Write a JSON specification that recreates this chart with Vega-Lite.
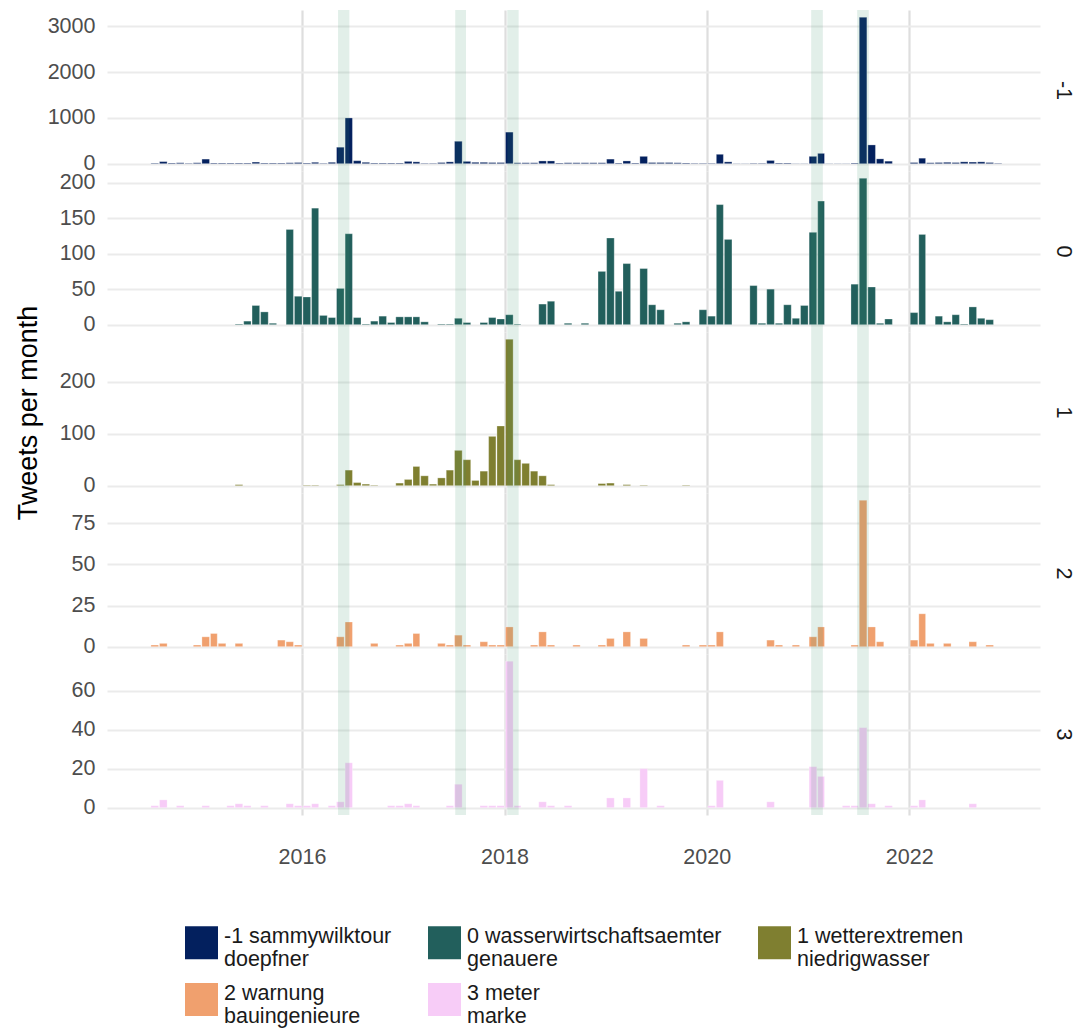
{
"$schema": "https://vega.github.io/schema/vega-lite/v6.json",
"padding": {"left": 14, "top": 10, "right": 2, "bottom": 2},
"background": "white",
"config": {"font": "Liberation Sans", "view": {"stroke": null},
  "axis": {"ticks": false, "tickSize": 0, "domain": false, "labelFontSize": 21.5, "labelColor": "#4D4D4D", "titleFontSize": 27, "titleFontWeight": "normal", "titleColor": "#000000"},
  "axisY": {"gridColor": "#EBEBEB", "gridWidth": 1.8, "labelPadding": 12, "format": "d"},
  "axisX": {"gridColor": "#DEDEDE", "gridWidth": 2.2}},
"spacing": 0,
"bounds": "flush",
"resolve": {"scale": {"y": "independent", "color": "shared", "x": "shared"}},
"datasets": {
"topics": [
 {"topic": "-1", "name": "-1 sammywilktour doepfner"},
 {"topic": "0", "name": "0 wasserwirtschaftsaemter genauere"},
 {"topic": "1", "name": "1 wetterextremen niedrigwasser"},
 {"topic": "2", "name": "2 warnung bauingenieure"},
 {"topic": "3", "name": "3 meter marke"}],
"events": [
 {"start": "2016-05-10", "end": "2016-06-20"},
 {"start": "2017-07-07", "end": "2017-08-15"},
 {"start": "2018-01-11", "end": "2018-02-21"},
 {"start": "2021-01-12", "end": "2021-02-23"},
 {"start": "2021-06-27", "end": "2021-08-08"}],
"counts": [
{"topic":"-1","month":"2014-07-01","tweets":12},{"topic":"-1","month":"2014-08-01","tweets":45},{"topic":"-1","month":"2014-09-01","tweets":15},{"topic":"-1","month":"2014-10-01","tweets":20},{"topic":"-1","month":"2014-11-01","tweets":10},{"topic":"-1","month":"2014-12-01","tweets":20},
{"topic":"-1","month":"2015-01-01","tweets":100},{"topic":"-1","month":"2015-02-01","tweets":15},{"topic":"-1","month":"2015-03-01","tweets":15},{"topic":"-1","month":"2015-04-01","tweets":15},{"topic":"-1","month":"2015-05-01","tweets":15},{"topic":"-1","month":"2015-06-01","tweets":15},{"topic":"-1","month":"2015-07-01","tweets":35},{"topic":"-1","month":"2015-08-01","tweets":15},{"topic":"-1","month":"2015-09-01","tweets":15},{"topic":"-1","month":"2015-10-01","tweets":15},{"topic":"-1","month":"2015-11-01","tweets":20},{"topic":"-1","month":"2015-12-01","tweets":25},
{"topic":"-1","month":"2016-01-01","tweets":15},{"topic":"-1","month":"2016-02-01","tweets":30},{"topic":"-1","month":"2016-03-01","tweets":10},{"topic":"-1","month":"2016-04-01","tweets":30},{"topic":"-1","month":"2016-05-01","tweets":360},{"topic":"-1","month":"2016-06-01","tweets":1000},{"topic":"-1","month":"2016-07-01","tweets":65},{"topic":"-1","month":"2016-08-01","tweets":30},{"topic":"-1","month":"2016-09-01","tweets":15},{"topic":"-1","month":"2016-10-01","tweets":15},{"topic":"-1","month":"2016-11-01","tweets":15},{"topic":"-1","month":"2016-12-01","tweets":15},
{"topic":"-1","month":"2017-01-01","tweets":50},{"topic":"-1","month":"2017-02-01","tweets":40},{"topic":"-1","month":"2017-03-01","tweets":10},{"topic":"-1","month":"2017-04-01","tweets":10},{"topic":"-1","month":"2017-05-01","tweets":25},{"topic":"-1","month":"2017-06-01","tweets":40},{"topic":"-1","month":"2017-07-01","tweets":490},{"topic":"-1","month":"2017-08-01","tweets":50},{"topic":"-1","month":"2017-09-01","tweets":30},{"topic":"-1","month":"2017-10-01","tweets":30},{"topic":"-1","month":"2017-11-01","tweets":25},{"topic":"-1","month":"2017-12-01","tweets":25},
{"topic":"-1","month":"2018-01-01","tweets":690},{"topic":"-1","month":"2018-02-01","tweets":20},{"topic":"-1","month":"2018-03-01","tweets":20},{"topic":"-1","month":"2018-04-01","tweets":20},{"topic":"-1","month":"2018-05-01","tweets":60},{"topic":"-1","month":"2018-06-01","tweets":60},{"topic":"-1","month":"2018-07-01","tweets":15},{"topic":"-1","month":"2018-08-01","tweets":20},{"topic":"-1","month":"2018-09-01","tweets":20},{"topic":"-1","month":"2018-10-01","tweets":20},{"topic":"-1","month":"2018-11-01","tweets":20},{"topic":"-1","month":"2018-12-01","tweets":20},
{"topic":"-1","month":"2019-01-01","tweets":100},{"topic":"-1","month":"2019-02-01","tweets":15},{"topic":"-1","month":"2019-03-01","tweets":60},{"topic":"-1","month":"2019-04-01","tweets":15},{"topic":"-1","month":"2019-05-01","tweets":160},{"topic":"-1","month":"2019-06-01","tweets":25},{"topic":"-1","month":"2019-07-01","tweets":25},{"topic":"-1","month":"2019-08-01","tweets":25},{"topic":"-1","month":"2019-09-01","tweets":20},{"topic":"-1","month":"2019-10-01","tweets":15},{"topic":"-1","month":"2019-11-01","tweets":10},{"topic":"-1","month":"2019-12-01","tweets":10},
{"topic":"-1","month":"2020-01-01","tweets":10},{"topic":"-1","month":"2020-02-01","tweets":205},{"topic":"-1","month":"2020-03-01","tweets":40},{"topic":"-1","month":"2020-04-01","tweets":5},{"topic":"-1","month":"2020-05-01","tweets":5},{"topic":"-1","month":"2020-06-01","tweets":10},{"topic":"-1","month":"2020-07-01","tweets":10},{"topic":"-1","month":"2020-08-01","tweets":70},{"topic":"-1","month":"2020-09-01","tweets":15},{"topic":"-1","month":"2020-10-01","tweets":15},{"topic":"-1","month":"2020-11-01","tweets":5},{"topic":"-1","month":"2020-12-01","tweets":5},
{"topic":"-1","month":"2021-01-01","tweets":160},{"topic":"-1","month":"2021-02-01","tweets":225},{"topic":"-1","month":"2021-03-01","tweets":5},{"topic":"-1","month":"2021-04-01","tweets":5},{"topic":"-1","month":"2021-05-01","tweets":5},{"topic":"-1","month":"2021-06-01","tweets":15},{"topic":"-1","month":"2021-07-01","tweets":3200},{"topic":"-1","month":"2021-08-01","tweets":410},{"topic":"-1","month":"2021-09-01","tweets":105},{"topic":"-1","month":"2021-10-01","tweets":55},
{"topic":"-1","month":"2022-01-01","tweets":25},{"topic":"-1","month":"2022-02-01","tweets":120},{"topic":"-1","month":"2022-03-01","tweets":20},{"topic":"-1","month":"2022-04-01","tweets":25},{"topic":"-1","month":"2022-05-01","tweets":30},{"topic":"-1","month":"2022-06-01","tweets":25},{"topic":"-1","month":"2022-07-01","tweets":40},{"topic":"-1","month":"2022-08-01","tweets":35},{"topic":"-1","month":"2022-09-01","tweets":40},{"topic":"-1","month":"2022-10-01","tweets":25},{"topic":"-1","month":"2022-11-01","tweets":10},
{"topic":"0","month":"2015-05-01","tweets":1},{"topic":"0","month":"2015-06-01","tweets":5},{"topic":"0","month":"2015-07-01","tweets":27},{"topic":"0","month":"2015-08-01","tweets":18},{"topic":"0","month":"2015-09-01","tweets":2},{"topic":"0","month":"2015-11-01","tweets":134},{"topic":"0","month":"2015-12-01","tweets":40},
{"topic":"0","month":"2016-01-01","tweets":39},{"topic":"0","month":"2016-02-01","tweets":164},{"topic":"0","month":"2016-03-01","tweets":13},{"topic":"0","month":"2016-04-01","tweets":10},{"topic":"0","month":"2016-05-01","tweets":51},{"topic":"0","month":"2016-06-01","tweets":128},{"topic":"0","month":"2016-07-01","tweets":10},{"topic":"0","month":"2016-08-01","tweets":1},{"topic":"0","month":"2016-09-01","tweets":5},{"topic":"0","month":"2016-10-01","tweets":12},{"topic":"0","month":"2016-11-01","tweets":3},{"topic":"0","month":"2016-12-01","tweets":11},
{"topic":"0","month":"2017-01-01","tweets":11},{"topic":"0","month":"2017-02-01","tweets":11},{"topic":"0","month":"2017-03-01","tweets":4},{"topic":"0","month":"2017-05-01","tweets":1},{"topic":"0","month":"2017-06-01","tweets":1},{"topic":"0","month":"2017-07-01","tweets":9},{"topic":"0","month":"2017-08-01","tweets":3},{"topic":"0","month":"2017-10-01","tweets":3},{"topic":"0","month":"2017-11-01","tweets":10},{"topic":"0","month":"2017-12-01","tweets":8},
{"topic":"0","month":"2018-01-01","tweets":14},{"topic":"0","month":"2018-02-01","tweets":1},{"topic":"0","month":"2018-05-01","tweets":29},{"topic":"0","month":"2018-06-01","tweets":33},{"topic":"0","month":"2018-08-01","tweets":2},{"topic":"0","month":"2018-10-01","tweets":2},{"topic":"0","month":"2018-12-01","tweets":75},
{"topic":"0","month":"2019-01-01","tweets":122},{"topic":"0","month":"2019-02-01","tweets":47},{"topic":"0","month":"2019-03-01","tweets":86},{"topic":"0","month":"2019-05-01","tweets":79},{"topic":"0","month":"2019-06-01","tweets":28},{"topic":"0","month":"2019-07-01","tweets":21},{"topic":"0","month":"2019-09-01","tweets":2},{"topic":"0","month":"2019-10-01","tweets":4},{"topic":"0","month":"2019-12-01","tweets":21},
{"topic":"0","month":"2020-01-01","tweets":12},{"topic":"0","month":"2020-02-01","tweets":169},{"topic":"0","month":"2020-03-01","tweets":120},{"topic":"0","month":"2020-06-01","tweets":55},{"topic":"0","month":"2020-07-01","tweets":2},{"topic":"0","month":"2020-08-01","tweets":50},{"topic":"0","month":"2020-09-01","tweets":2},{"topic":"0","month":"2020-10-01","tweets":28},{"topic":"0","month":"2020-11-01","tweets":9},{"topic":"0","month":"2020-12-01","tweets":27},
{"topic":"0","month":"2021-01-01","tweets":130},{"topic":"0","month":"2021-02-01","tweets":174},{"topic":"0","month":"2021-06-01","tweets":57},{"topic":"0","month":"2021-07-01","tweets":206},{"topic":"0","month":"2021-08-01","tweets":53},{"topic":"0","month":"2021-09-01","tweets":2},{"topic":"0","month":"2021-10-01","tweets":8},
{"topic":"0","month":"2022-01-01","tweets":17},{"topic":"0","month":"2022-02-01","tweets":127},{"topic":"0","month":"2022-04-01","tweets":12},{"topic":"0","month":"2022-05-01","tweets":4},{"topic":"0","month":"2022-06-01","tweets":14},{"topic":"0","month":"2022-07-01","tweets":1},{"topic":"0","month":"2022-08-01","tweets":25},{"topic":"0","month":"2022-09-01","tweets":9},{"topic":"0","month":"2022-10-01","tweets":7},
{"topic":"1","month":"2015-05-01","tweets":2},{"topic":"1","month":"2016-01-01","tweets":1},{"topic":"1","month":"2016-02-01","tweets":1},{"topic":"1","month":"2016-05-01","tweets":2},{"topic":"1","month":"2016-06-01","tweets":30},{"topic":"1","month":"2016-07-01","tweets":6},{"topic":"1","month":"2016-08-01","tweets":3},{"topic":"1","month":"2016-09-01","tweets":1},{"topic":"1","month":"2016-12-01","tweets":5},
{"topic":"1","month":"2017-01-01","tweets":12},{"topic":"1","month":"2017-02-01","tweets":37},{"topic":"1","month":"2017-03-01","tweets":19},{"topic":"1","month":"2017-04-01","tweets":3},{"topic":"1","month":"2017-05-01","tweets":15},{"topic":"1","month":"2017-06-01","tweets":30},{"topic":"1","month":"2017-07-01","tweets":68},{"topic":"1","month":"2017-08-01","tweets":50},{"topic":"1","month":"2017-09-01","tweets":10},{"topic":"1","month":"2017-10-01","tweets":28},{"topic":"1","month":"2017-11-01","tweets":95},{"topic":"1","month":"2017-12-01","tweets":115},
{"topic":"1","month":"2018-01-01","tweets":282},{"topic":"1","month":"2018-02-01","tweets":50},{"topic":"1","month":"2018-03-01","tweets":43},{"topic":"1","month":"2018-04-01","tweets":28},{"topic":"1","month":"2018-05-01","tweets":19},{"topic":"1","month":"2018-06-01","tweets":2},{"topic":"1","month":"2018-12-01","tweets":4},{"topic":"1","month":"2019-01-01","tweets":5},{"topic":"1","month":"2019-03-01","tweets":2},{"topic":"1","month":"2019-05-01","tweets":1},{"topic":"1","month":"2019-10-01","tweets":1},
{"topic":"2","month":"2014-07-01","tweets":1},{"topic":"2","month":"2014-08-01","tweets":2},{"topic":"2","month":"2014-12-01","tweets":1},{"topic":"2","month":"2015-01-01","tweets":6},{"topic":"2","month":"2015-02-01","tweets":8},{"topic":"2","month":"2015-03-01","tweets":2},{"topic":"2","month":"2015-05-01","tweets":2},{"topic":"2","month":"2015-10-01","tweets":4},{"topic":"2","month":"2015-11-01","tweets":3},{"topic":"2","month":"2015-12-01","tweets":1},
{"topic":"2","month":"2016-05-01","tweets":6},{"topic":"2","month":"2016-06-01","tweets":15},{"topic":"2","month":"2016-09-01","tweets":2},{"topic":"2","month":"2016-12-01","tweets":1},{"topic":"2","month":"2017-01-01","tweets":2},{"topic":"2","month":"2017-02-01","tweets":8},{"topic":"2","month":"2017-05-01","tweets":2},{"topic":"2","month":"2017-06-01","tweets":1},{"topic":"2","month":"2017-07-01","tweets":7},{"topic":"2","month":"2017-08-01","tweets":1},{"topic":"2","month":"2017-10-01","tweets":3},{"topic":"2","month":"2017-11-01","tweets":1},{"topic":"2","month":"2017-12-01","tweets":1},
{"topic":"2","month":"2018-01-01","tweets":12},{"topic":"2","month":"2018-04-01","tweets":1},{"topic":"2","month":"2018-05-01","tweets":9},{"topic":"2","month":"2018-06-01","tweets":1},{"topic":"2","month":"2018-09-01","tweets":1},{"topic":"2","month":"2018-12-01","tweets":1},{"topic":"2","month":"2019-01-01","tweets":5},{"topic":"2","month":"2019-03-01","tweets":9},{"topic":"2","month":"2019-05-01","tweets":5},{"topic":"2","month":"2019-10-01","tweets":1},{"topic":"2","month":"2019-12-01","tweets":1},
{"topic":"2","month":"2020-01-01","tweets":1},{"topic":"2","month":"2020-02-01","tweets":9},{"topic":"2","month":"2020-08-01","tweets":4},{"topic":"2","month":"2020-09-01","tweets":1},{"topic":"2","month":"2020-11-01","tweets":1},{"topic":"2","month":"2021-01-01","tweets":6},{"topic":"2","month":"2021-02-01","tweets":12},{"topic":"2","month":"2021-06-01","tweets":1},{"topic":"2","month":"2021-07-01","tweets":89},{"topic":"2","month":"2021-08-01","tweets":12},{"topic":"2","month":"2021-09-01","tweets":3},
{"topic":"2","month":"2022-01-01","tweets":4},{"topic":"2","month":"2022-02-01","tweets":20},{"topic":"2","month":"2022-03-01","tweets":2},{"topic":"2","month":"2022-05-01","tweets":2},{"topic":"2","month":"2022-08-01","tweets":3},{"topic":"2","month":"2022-10-01","tweets":1},
{"topic":"3","month":"2014-07-01","tweets":1},{"topic":"3","month":"2014-08-01","tweets":4},{"topic":"3","month":"2014-10-01","tweets":1},{"topic":"3","month":"2015-01-01","tweets":1},{"topic":"3","month":"2015-04-01","tweets":1},{"topic":"3","month":"2015-05-01","tweets":2},{"topic":"3","month":"2015-06-01","tweets":1},{"topic":"3","month":"2015-08-01","tweets":1},{"topic":"3","month":"2015-11-01","tweets":2},{"topic":"3","month":"2015-12-01","tweets":1},
{"topic":"3","month":"2016-01-01","tweets":1},{"topic":"3","month":"2016-02-01","tweets":2},{"topic":"3","month":"2016-04-01","tweets":1},{"topic":"3","month":"2016-05-01","tweets":3},{"topic":"3","month":"2016-06-01","tweets":23},{"topic":"3","month":"2016-11-01","tweets":1},{"topic":"3","month":"2016-12-01","tweets":1},{"topic":"3","month":"2017-01-01","tweets":2},{"topic":"3","month":"2017-02-01","tweets":1},{"topic":"3","month":"2017-06-01","tweets":1},{"topic":"3","month":"2017-07-01","tweets":12},{"topic":"3","month":"2017-10-01","tweets":1},{"topic":"3","month":"2017-11-01","tweets":1},{"topic":"3","month":"2017-12-01","tweets":1},
{"topic":"3","month":"2018-01-01","tweets":75},{"topic":"3","month":"2018-02-01","tweets":1},{"topic":"3","month":"2018-05-01","tweets":3},{"topic":"3","month":"2018-06-01","tweets":1},{"topic":"3","month":"2018-08-01","tweets":1},{"topic":"3","month":"2019-01-01","tweets":5},{"topic":"3","month":"2019-03-01","tweets":5},{"topic":"3","month":"2019-05-01","tweets":20},{"topic":"3","month":"2019-07-01","tweets":1},
{"topic":"3","month":"2020-01-01","tweets":1},{"topic":"3","month":"2020-02-01","tweets":14},{"topic":"3","month":"2020-08-01","tweets":3},{"topic":"3","month":"2021-01-01","tweets":21},{"topic":"3","month":"2021-02-01","tweets":16},{"topic":"3","month":"2021-05-01","tweets":1},{"topic":"3","month":"2021-06-01","tweets":1},{"topic":"3","month":"2021-07-01","tweets":41},{"topic":"3","month":"2021-08-01","tweets":2},{"topic":"3","month":"2021-10-01","tweets":1},
{"topic":"3","month":"2022-01-01","tweets":1},{"topic":"3","month":"2022-02-01","tweets":4},{"topic":"3","month":"2022-08-01","tweets":2}
]},
"vconcat": [
{"width": 933, "height": 161,
 "title": {"text": "-1", "orient": "right", "anchor": "middle", "frame": "group", "fontSize": 21.5, "fontWeight": "normal", "color": "#1A1A1A", "offset": 12},
 "layer": [
  {"data": {"name": "counts"},
   "transform": [{"filter": "datum.topic == '-1'"}, {"lookup": "topic", "from": {"data": {"name": "topics"}, "key": "topic", "fields": ["name"]}}],
   "mark": {"type": "bar", "timeUnitBandSize": 0.87, "stroke": "white", "strokeWidth": 0.4, "strokeOpacity": 0.7},
   "encoding": {
    "x": {"field": "month", "timeUnit": "utcyearmonth", "type": "temporal", "title": null,
      "scale": {"type": "utc", "domain": [{"year": 2014, "month": 1, "date": 27, "utc": true}, {"year": 2023, "month": 4, "date": 18, "utc": true}]},
      "axis": {"labels": false, "grid": true, "title": null, "values": [{"year": 2016, "month": 1, "date": 1, "utc": true}, {"year": 2018, "month": 1, "date": 1, "utc": true}, {"year": 2020, "month": 1, "date": 1, "utc": true}, {"year": 2022, "month": 1, "date": 1, "utc": true}]}},
    "y": {"field": "tweets", "type": "quantitative", "scale": {"domain": [-160, 3360], "nice": false, "zero": false}, "axis": {"title": null, "values": [0, 1000, 2000, 3000]}},
    "color": {"field": "name", "type": "nominal",
      "scale": {"domain": ["-1 sammywilktour doepfner", "0 wasserwirtschaftsaemter genauere", "1 wetterextremen niedrigwasser", "2 warnung bauingenieure", "3 meter marke"], "range": ["#03205E", "#225F5C", "#7F7F30", "#F0A06E", "#F7CCF7"]},
      "legend": {"orient": "none", "legendX": 78, "legendY": 916, "columns": 3, "direction": "horizontal", "title": null, "symbolType": "square", "symbolSize": 1089, "symbolStrokeWidth": 0, "symbolOpacity": 1, "labelFontSize": 21.5, "labelColor": "#1A1A1A", "labelLimit": 500, "labelOffset": 6, "labelBaseline": "alphabetic", "columnPadding": 36, "rowPadding": 11, "gridAlign": "each",
        "labelExpr": "[substring(datum.label, 0, lastindexof(datum.label, ' ')), substring(datum.label, lastindexof(datum.label, ' ') + 1)]"}}
   }},
  {"data": {"name": "events"}, "mark": {"type": "rect", "color": "#3C9669", "opacity": 0.15},
   "encoding": {"x": {"field": "start", "type": "temporal", "scale": {"type": "utc"}}, "x2": {"field": "end"}}}
 ]},
{"width": 933, "height": 161,
 "title": {"text": "0", "orient": "right", "anchor": "middle", "frame": "group", "fontSize": 21.5, "fontWeight": "normal", "color": "#1A1A1A", "offset": 12},
 "layer": [
  {"data": {"name": "counts"},
   "transform": [{"filter": "datum.topic == '0'"}, {"lookup": "topic", "from": {"data": {"name": "topics"}, "key": "topic", "fields": ["name"]}}],
   "mark": {"type": "bar", "timeUnitBandSize": 0.87, "stroke": "white", "strokeWidth": 0.4, "strokeOpacity": 0.7},
   "encoding": {
    "x": {"field": "month", "timeUnit": "utcyearmonth", "type": "temporal", "title": null,
      "scale": {"type": "utc", "domain": [{"year": 2014, "month": 1, "date": 27, "utc": true}, {"year": 2023, "month": 4, "date": 18, "utc": true}]},
      "axis": {"labels": false, "grid": true, "title": null, "values": [{"year": 2016, "month": 1, "date": 1, "utc": true}, {"year": 2018, "month": 1, "date": 1, "utc": true}, {"year": 2020, "month": 1, "date": 1, "utc": true}, {"year": 2022, "month": 1, "date": 1, "utc": true}]}},
    "y": {"field": "tweets", "type": "quantitative", "scale": {"domain": [-10.3, 216.3], "nice": false, "zero": false}, "axis": {"title": null, "values": [0, 50, 100, 150, 200]}},
    "color": {"field": "name", "type": "nominal"}
   }},
  {"data": {"name": "events"}, "mark": {"type": "rect", "color": "#3C9669", "opacity": 0.15},
   "encoding": {"x": {"field": "start", "type": "temporal", "scale": {"type": "utc"}}, "x2": {"field": "end"}}}
 ]},
{"width": 933, "height": 161,
 "title": {"text": "1", "orient": "right", "anchor": "middle", "frame": "group", "fontSize": 21.5, "fontWeight": "normal", "color": "#1A1A1A", "offset": 12},
 "layer": [
  {"data": {"name": "counts"},
   "transform": [{"filter": "datum.topic == '1'"}, {"lookup": "topic", "from": {"data": {"name": "topics"}, "key": "topic", "fields": ["name"]}}],
   "mark": {"type": "bar", "timeUnitBandSize": 0.87, "stroke": "white", "strokeWidth": 0.4, "strokeOpacity": 0.7},
   "encoding": {
    "x": {"field": "month", "timeUnit": "utcyearmonth", "type": "temporal", "title": null,
      "scale": {"type": "utc", "domain": [{"year": 2014, "month": 1, "date": 27, "utc": true}, {"year": 2023, "month": 4, "date": 18, "utc": true}]},
      "axis": {"labels": false, "grid": true, "title": null, "values": [{"year": 2016, "month": 1, "date": 1, "utc": true}, {"year": 2018, "month": 1, "date": 1, "utc": true}, {"year": 2020, "month": 1, "date": 1, "utc": true}, {"year": 2022, "month": 1, "date": 1, "utc": true}]}},
    "y": {"field": "tweets", "type": "quantitative", "scale": {"domain": [-14.1, 296.1], "nice": false, "zero": false}, "axis": {"title": "Tweets per month", "titlePadding": 17, "values": [0, 100, 200]}},
    "color": {"field": "name", "type": "nominal"}
   }},
  {"data": {"name": "events"}, "mark": {"type": "rect", "color": "#3C9669", "opacity": 0.15},
   "encoding": {"x": {"field": "start", "type": "temporal", "scale": {"type": "utc"}}, "x2": {"field": "end"}}}
 ]},
{"width": 933, "height": 161,
 "title": {"text": "2", "orient": "right", "anchor": "middle", "frame": "group", "fontSize": 21.5, "fontWeight": "normal", "color": "#1A1A1A", "offset": 12},
 "layer": [
  {"data": {"name": "counts"},
   "transform": [{"filter": "datum.topic == '2'"}, {"lookup": "topic", "from": {"data": {"name": "topics"}, "key": "topic", "fields": ["name"]}}],
   "mark": {"type": "bar", "timeUnitBandSize": 0.87, "stroke": "white", "strokeWidth": 0.4, "strokeOpacity": 0.7},
   "encoding": {
    "x": {"field": "month", "timeUnit": "utcyearmonth", "type": "temporal", "title": null,
      "scale": {"type": "utc", "domain": [{"year": 2014, "month": 1, "date": 27, "utc": true}, {"year": 2023, "month": 4, "date": 18, "utc": true}]},
      "axis": {"labels": false, "grid": true, "title": null, "values": [{"year": 2016, "month": 1, "date": 1, "utc": true}, {"year": 2018, "month": 1, "date": 1, "utc": true}, {"year": 2020, "month": 1, "date": 1, "utc": true}, {"year": 2022, "month": 1, "date": 1, "utc": true}]}},
    "y": {"field": "tweets", "type": "quantitative", "scale": {"domain": [-4.45, 93.45], "nice": false, "zero": false}, "axis": {"title": null, "values": [0, 25, 50, 75]}},
    "color": {"field": "name", "type": "nominal"}
   }},
  {"data": {"name": "events"}, "mark": {"type": "rect", "color": "#3C9669", "opacity": 0.15},
   "encoding": {"x": {"field": "start", "type": "temporal", "scale": {"type": "utc"}}, "x2": {"field": "end"}}}
 ]},
{"width": 933, "height": 161,
 "title": {"text": "3", "orient": "right", "anchor": "middle", "frame": "group", "fontSize": 21.5, "fontWeight": "normal", "color": "#1A1A1A", "offset": 12},
 "layer": [
  {"data": {"name": "counts"},
   "transform": [{"filter": "datum.topic == '3'"}, {"lookup": "topic", "from": {"data": {"name": "topics"}, "key": "topic", "fields": ["name"]}}],
   "mark": {"type": "bar", "timeUnitBandSize": 0.87, "stroke": "white", "strokeWidth": 0.4, "strokeOpacity": 0.7},
   "encoding": {
    "x": {"field": "month", "timeUnit": "utcyearmonth", "type": "temporal", "title": null,
      "scale": {"type": "utc", "domain": [{"year": 2014, "month": 1, "date": 27, "utc": true}, {"year": 2023, "month": 4, "date": 18, "utc": true}]},
      "axis": {"labels": true, "grid": true, "title": null, "labelExpr": "utcFormat(datum.value, '%Y')", "labelPadding": 31, "values": [{"year": 2016, "month": 1, "date": 1, "utc": true}, {"year": 2018, "month": 1, "date": 1, "utc": true}, {"year": 2020, "month": 1, "date": 1, "utc": true}, {"year": 2022, "month": 1, "date": 1, "utc": true}]}},
    "y": {"field": "tweets", "type": "quantitative", "scale": {"domain": [-3.75, 78.75], "nice": false, "zero": false}, "axis": {"title": null, "values": [0, 20, 40, 60]}},
    "color": {"field": "name", "type": "nominal"}
   }},
  {"data": {"name": "events"}, "mark": {"type": "rect", "color": "#3C9669", "opacity": 0.15},
   "encoding": {"x": {"field": "start", "type": "temporal", "scale": {"type": "utc"}}, "x2": {"field": "end"}}}
 ]}
]
}
